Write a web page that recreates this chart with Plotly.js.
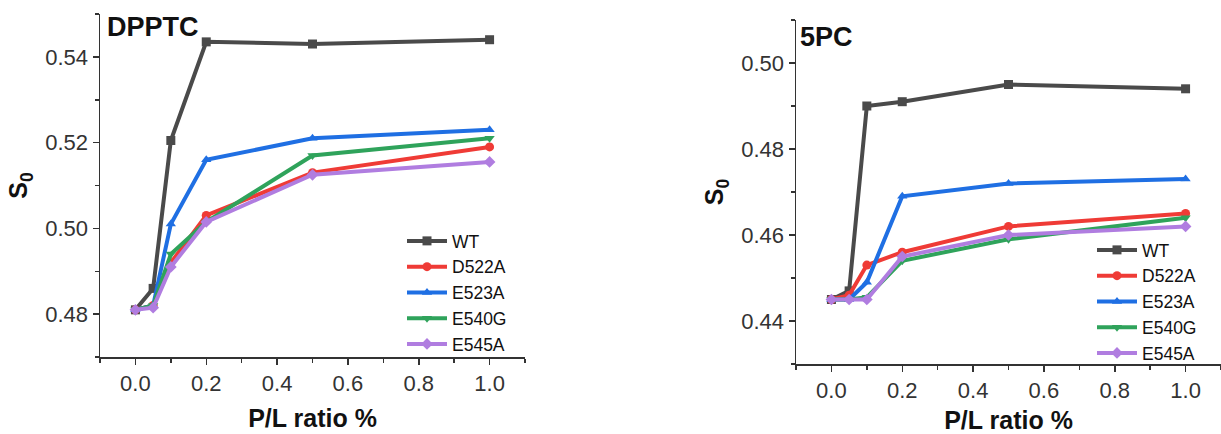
<!DOCTYPE html>
<html><head><meta charset="utf-8">
<script src="https://cdn.plot.ly/plotly-3.0.1.min.js"></script>
<style>html,body{margin:0;padding:0;background:#fff}#chart{width:1221px;height:434px}</style>
</head><body><div id="chart"></div>
<script>
const ratio = [0, 0.05, 0.1, 0.2, 0.5, 1.0];
const seriesNames = ["WT", "D522A", "E523A", "E540G", "E545A"];
const colors = ["#4a4a4a", "#ef3b36", "#1f6fe3", "#2fa35b", "#b07de0"];
const symbols = ["square", "circle", "triangle-up", "triangle-down", "diamond"];

// DPPTC panel
const dppWT    = [0.481, 0.486, 0.5205, 0.5435, 0.543, 0.544];
const dppD522A = [0.481, 0.482, 0.492, 0.503, 0.513, 0.519];
const dppE523A = [0.481, 0.482, 0.501, 0.516, 0.521, 0.523];
const dppE540G = [0.481, 0.482, 0.494, 0.5015, 0.517, 0.521];
const dppE545A = [0.481, 0.4815, 0.491, 0.5015, 0.5125, 0.5155];

// 5PC panel
const pcWT    = [0.445, 0.447, 0.490, 0.491, 0.495, 0.494];
const pcD522A = [0.445, 0.446, 0.453, 0.456, 0.462, 0.465];
const pcE523A = [0.445, 0.445, 0.449, 0.469, 0.472, 0.473];
const pcE540G = [0.445, 0.445, 0.4455, 0.454, 0.459, 0.464];
const pcE545A = [0.445, 0.445, 0.445, 0.455, 0.460, 0.462];

const dppData = [dppWT, dppD522A, dppE523A, dppE540G, dppE545A];
const pcData = [pcWT, pcD522A, pcE523A, pcE540G, pcE545A];

const traces = [];
dppData.forEach((ys, i) => traces.push({
  x: ratio, y: ys, name: seriesNames[i], type: 'scatter', mode: 'lines+markers',
  xaxis: 'x', yaxis: 'y', legend: 'legend',
  line: {color: colors[i], width: 4}, marker: {symbol: symbols[i], size: 9, color: colors[i]}
}));
pcData.forEach((ys, i) => traces.push({
  x: ratio, y: ys, name: seriesNames[i], type: 'scatter', mode: 'lines+markers',
  xaxis: 'x2', yaxis: 'y2', legend: 'legend2',
  line: {color: colors[i], width: 4}, marker: {symbol: symbols[i], size: 9, color: colors[i]}
}));

const tickFont = {family: 'Liberation Sans, Arial, sans-serif', size: 22, color: '#333'};
const titleFont = {family: 'Liberation Sans, Arial, sans-serif', size: 25, color: '#111', weight: 'bold'};
function xax(domain, anchor) {
  return {domain: domain, anchor: anchor, range: [-0.1, 1.1], dtick: 0.2, tick0: 0, tickformat: '.1f',
    showline: true, linecolor: '#333', linewidth: 1.5, ticks: 'outside', ticklen: 6, tickwidth: 1.5, tickcolor: '#333',
    minor: {ticks: 'outside', ticklen: 4, tickwidth: 1.5, tickcolor: '#333', dtick: 0.1, tick0: 0, showgrid: false},
    showgrid: false, zeroline: false, tickfont: tickFont,
    title: {text: 'P/L ratio %', font: titleFont, standoff: 14}};
}
function yax(domain, anchor, range) {
  return {domain: domain, anchor: anchor, range: range, dtick: 0.02, tickformat: '.2f',
    showline: true, linecolor: '#333', linewidth: 1.5, ticks: 'outside', ticklen: 6, tickwidth: 1.5, tickcolor: '#333',
    minor: {ticks: 'outside', ticklen: 4, tickwidth: 1.5, tickcolor: '#333', dtick: 0.01, showgrid: false},
    showgrid: false, zeroline: false, tickfont: tickFont,
    title: {text: 'S<sub>0</sub>', font: titleFont, standoff: 10}};
}
const legendFont = {family: 'Liberation Sans, Arial, sans-serif', size: 17.5, color: '#111'};
const layout = {
  width: 1221, height: 434, margin: {l: 0, r: 0, t: 0, b: 0},
  paper_bgcolor: '#fff', plot_bgcolor: '#fff', showlegend: true,
  xaxis: xax([100/1221, 525/1221], 'y'),
  yaxis: yax([1 - 357/434, 1 - 14/434], 'x', [0.47, 0.55]),
  xaxis2: xax([796/1221, 1], 'y2'),
  yaxis2: yax([1 - 364/434, 1 - 20/434], 'x2', [0.43, 0.51]),
  legend: {x: 402/1221, y: 1 - 223/434, xanchor: 'left', yanchor: 'top', font: legendFont,
    bgcolor: 'rgba(0,0,0,0)', tracegroupgap: 0, itemwidth: 40},
  legend2: {x: 1092/1221, y: 1 - 232/434, xanchor: 'left', yanchor: 'top', font: legendFont,
    bgcolor: 'rgba(0,0,0,0)', tracegroupgap: 0, itemwidth: 40},
  annotations: [
    {text: 'DPPTC', xref: 'paper', yref: 'paper', x: 105/1221, y: 1 - 10/434, xanchor: 'left', yanchor: 'top',
     showarrow: false, font: {family: 'Liberation Sans, Arial, sans-serif', size: 27, color: '#111', weight: 'bold'}},
    {text: '5PC', xref: 'paper', yref: 'paper', x: 798/1221, y: 1 - 20/434, xanchor: 'left', yanchor: 'top',
     showarrow: false, font: {family: 'Liberation Sans, Arial, sans-serif', size: 27, color: '#111', weight: 'bold'}}
  ]
};
Plotly.newPlot('chart', traces, layout, {displayModeBar: false, staticPlot: true});
</script></body></html>
